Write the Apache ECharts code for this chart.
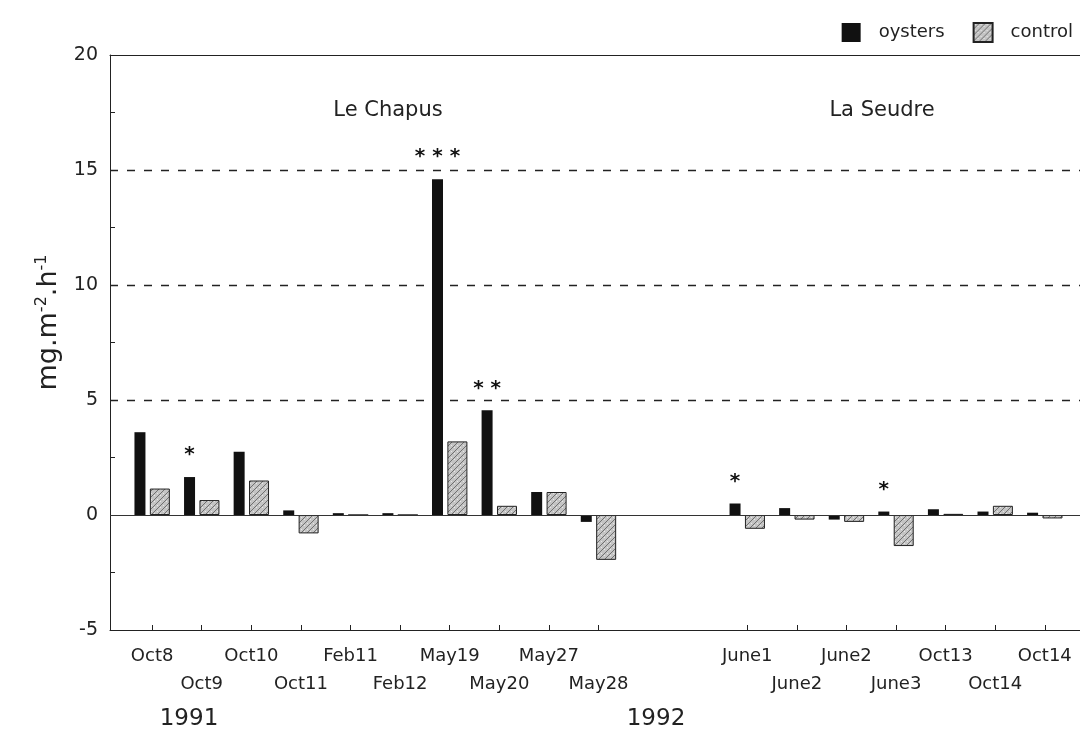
<!DOCTYPE html>
<html>
<head>
<meta charset="utf-8">
<script src="https://cdn.jsdelivr.net/npm/echarts@6/dist/echarts.min.js"></script>
<style>
html,body{margin:0;padding:0;background:#fff;}
#chart{width:1080px;height:733px;}
</style>
</head>
<body>
<div id="chart"></div>
<script>
// ---- data ----
const categories = ['Oct8','Oct9','Oct10','Oct11','Feb11','Feb12','May19','May20','May27','May28','','','June1','June2','June2','June3','Oct13','Oct14','Oct14'];
const oysters = [3.6, 1.65, 2.75, 0.2, 0.08, 0.08, 14.6, 4.55, 1.0, -0.3, null, null, 0.5, 0.3, -0.2, 0.15, 0.25, 0.15, 0.1];
const control = [1.15, 0.65, 1.5, -0.8, 0, 0, 3.2, 0.4, 1.0, -1.95, null, null, -0.6, -0.2, -0.3, -1.35, 0.05, 0.4, -0.15];
const significance = ['', '*', '', '', '', '', '* * *', '* *', '', '', '', '', '*', '', '', '*', '', '', ''];
const seriesNames = ['oysters', 'control'];
const siteLabels = ['Le Chapus', 'La Seudre'];
const yearLabels = ['1991', '1992'];
const yMin = -5, yMax = 20, yStep = 5;
const gridLines = [5, 10, 15];

// ---- build ----
const tickValues = categories.map((c, i) => c ? i : null).filter(v => v !== null);
const upperTicks = tickValues.filter(v => v % 2 === 0);
const lowerTicks = tickValues.filter(v => v % 2 === 1);
const oysterData = oysters.map((v, i) => [i, v]).filter(d => d[1] !== null);
const controlData = control.map((v, i) => [i, v]).filter(d => d[1] !== null);
const sigByIndex = {};
oysterData.forEach((d, k) => { sigByIndex[k] = significance[d[0]]; });

function makePattern() {
  const c = document.createElement('canvas');
  c.width = 6; c.height = 6;
  const g = c.getContext('2d');
  g.fillStyle = '#c4c4c4';
  g.fillRect(0, 0, 6, 6);
  g.fillStyle = '#707070';
  for (let i = 0; i < 6; i++) g.fillRect(i, 5 - i, 1, 1);
  g.fillStyle = '#e8e8e8';
  g.fillRect(1, 1, 1, 1); g.fillRect(4, 3, 1, 1);
  return c;
}
const pattern = { image: makePattern(), repeat: 'repeat' };

const FONT = 'DejaVu Sans';
const XMIN = -0.85, XMAX = 18.71;
const chart = echarts.init(document.getElementById('chart'), null, { renderer: 'canvas' });

const splitColors = [];
for (let v = yMin; v <= yMax; v += yStep) splitColors.push(gridLines.includes(v) ? '#222' : 'rgba(0,0,0,0)');

const labelFmt = v => categories[Math.round(v)];
const labelStyle = { fontFamily: FONT, fontSize: 18, lineHeight: 28, color: '#222' };

chart.setOption({
  animation: false,
  backgroundColor: '#fff',
  textStyle: { fontFamily: FONT },
  grid: { left: 110, right: 0, top: 55, bottom: 103, containLabel: false },
  legend: {
    data: seriesNames,
    right: 2, top: 17,
    itemWidth: 19, itemHeight: 19, itemGap: 28,
    icon: 'rect',
    textStyle: { fontFamily: FONT, fontSize: 18, color: '#222', padding: [0, 0, 0, 13] }
  },
  xAxis: [{
    type: 'value', position: 'bottom',
    min: XMIN, max: XMAX,
    axisLine: { show: true, onZero: false, lineStyle: { color: '#222', width: 1 } },
    axisTick: { show: true, inside: true, length: 5, customValues: tickValues, lineStyle: { color: '#222' } },
    splitLine: { show: false },
    axisLabel: Object.assign({ customValues: upperTicks, showMinLabel: true, showMaxLabel: true, margin: 12, formatter: labelFmt }, labelStyle)
  }, {
    type: 'value', position: 'bottom',
    min: XMIN, max: XMAX,
    axisLine: { show: false }, axisTick: { show: false }, splitLine: { show: false },
    axisLabel: Object.assign({ customValues: lowerTicks, showMinLabel: true, showMaxLabel: true, margin: 40, formatter: labelFmt }, labelStyle)
  }, {
    type: 'value', position: 'top',
    min: XMIN, max: XMAX,
    axisLine: { show: true, lineStyle: { color: '#222', width: 1 } },
    axisTick: { show: false }, axisLabel: { show: false }, splitLine: { show: false }
  }],
  yAxis: {
    type: 'value',
    min: yMin, max: yMax, interval: yStep,
    axisLine: { show: true, onZero: false, lineStyle: { color: '#222', width: 1 } },
    axisTick: { show: true, inside: true, length: 5, lineStyle: { color: '#222' } },
    minorTick: { show: true, splitNumber: 2, length: 5, lineStyle: { color: '#222' } },
    axisLabel: { fontFamily: FONT, fontSize: 19, color: '#222', margin: 12 },
    splitLine: { show: true, lineStyle: { color: splitColors, type: [8, 9], width: 1.3 } },
    name: '{sp|}mg.m{s|-2}.h{s|-1}',
    nameLocation: 'middle',
    nameRotate: 90,
    nameGap: 42,
    nameTextStyle: {
      fontFamily: FONT, fontSize: 27, color: '#222',
      rich: {
        s: { fontFamily: FONT, fontSize: 16, color: '#222', padding: [0, 0, 16, 0] },
        sp: { width: 40 }
      }
    }
  },
  graphic: [
    { type: 'text', x: 388, y: 111, style: { text: siteLabels[0], textAlign: 'center', textVerticalAlign: 'middle', font: '21px "DejaVu Sans"', fill: '#222' } },
    { type: 'text', x: 882, y: 111, style: { text: siteLabels[1], textAlign: 'center', textVerticalAlign: 'middle', font: '21px "DejaVu Sans"', fill: '#222' } },
    { type: 'text', x: 189, y: 719, style: { text: yearLabels[0], textAlign: 'center', textVerticalAlign: 'middle', font: '23px "DejaVu Sans"', fill: '#222' } },
    { type: 'text', x: 656, y: 719, style: { text: yearLabels[1], textAlign: 'center', textVerticalAlign: 'middle', font: '23px "DejaVu Sans"', fill: '#222' } }
  ],
  series: [{
    name: seriesNames[0],
    type: 'bar',
    xAxisIndex: 0,
    data: oysterData,
    barWidth: 11,
    barGap: '40%',
    itemStyle: { color: '#111', borderColor: '#000', borderWidth: 0 },
    label: {
      show: true, position: 'top', distance: 12,
      formatter: p => sigByIndex[p.dataIndex] || '',
      fontFamily: FONT, fontSize: 20, fontWeight: 'bold', color: '#111'
    },
    markLine: {
      silent: true, symbol: 'none', label: { show: false },
      lineStyle: { color: '#333', type: 'solid', width: 1 },
      data: [{ yAxis: 0 }]
    }
  }, {
    name: seriesNames[1],
    type: 'bar',
    xAxisIndex: 0,
    data: controlData,
    barWidth: 20,
    itemStyle: { color: pattern, borderColor: '#222', borderWidth: 1 }
  }]
});
</script>
</body>
</html>
